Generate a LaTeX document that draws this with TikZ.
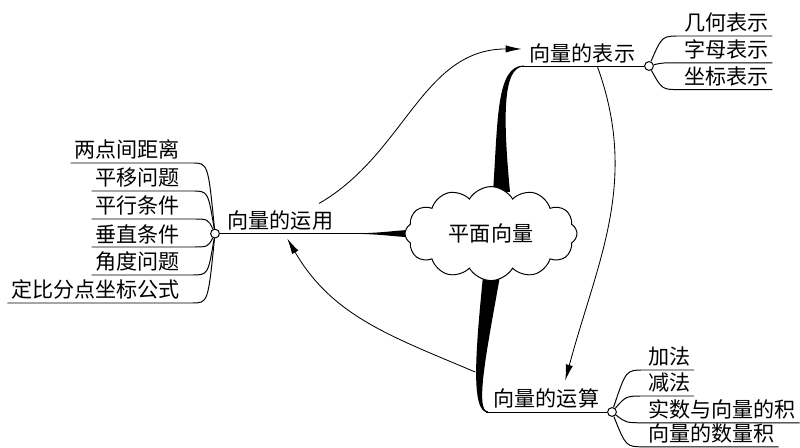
\documentclass[tikz,border=0pt]{standalone}
\usepackage{fontspec}
\newfontfamily\cjk{Noto Sans CJK SC}
\usepackage{tikz}
\usetikzlibrary{arrows.meta,positioning,calc,shapes.symbols}

\begin{document}
\begin{tikzpicture}[x=1cm,y=1cm,line width=0.7pt,
  word/.style={font=\cjk\fontsize{15}{18}\selectfont,inner xsep=2.5pt,inner ysep=2pt},
  knot/.style={circle,draw,fill=white,inner sep=0pt,minimum size=2.2mm},
  link/.style={-{Latex[length=4mm,width=1.8mm]},line width=0.6pt}]
  \useasboundingbox (0,0) rectangle (20,11.2);

  % tapered stems (drawn first, the cloud covers their bases)
  \fill (8.4,5.355) .. controls (9.6,5.36) and (9.9,5.45) .. (10.3,5.45)
    -- (10.3,5.27) .. controls (9.9,5.27) and (9.6,5.36) .. (8.4,5.365) -- cycle;
  \fill (12.325,6.4) .. controls (12.45,8.2) and (12.4,9.5625) .. (13.1,9.5625)
    -- (13.1,9.5375) .. controls (12.55,9.5375) and (12.58,8.2) .. (12.75,6.4) -- cycle;
  \fill (12.075,4.3) .. controls (11.9,2.5) and (11.75,0.8875) .. (12.2,0.8875)
    -- (12.2,0.9125) .. controls (11.85,0.9125) and (12.2,2.6) .. (12.5,4.3) -- cycle;

  % centre
  \node[cloud,draw,fill=white,cloud puffs=12,cloud puff arc=120,aspect=1.9,
    minimum width=4.3cm,minimum height=2.35cm,word] (plane) at (12.275,5.36) {平面向量};

  % main branches
  \node[word,anchor=south] (yunyong) at (7.01,5.36) {向量的运用};
  \node[word,anchor=south] (biaoshi) at (14.56,9.55) {向量的表示};
  \node[word,anchor=south] (yunsuan) at (13.66,0.9) {向量的运算};
  \node[knot] (dotL) at (5.375,5.36) {};
  \node[knot] (dotT) at (16.225,9.55) {};
  \node[knot] (dotB) at (15.3,0.9) {};
  \draw (dotL) -- (plane.west);
  \draw (13.05,9.55) -- (dotT);
  \draw (12.15,0.9) -- (dotB);

  % leaves
  \foreach \txt [count=\i] in {两点间距离,平移问题,平行条件,垂直条件,角度问题,定比分点坐标公式}{
    \pgfmathsetmacro\y{7.825-0.7*\i}
    \node[word,anchor=south east] (use\i) at (4.6,\y) {\txt};
    \draw (use\i.south west) -- (4.8,\y) .. controls (5.2,\y) .. (dotL);
  }
  \foreach \txt/\y [count=\i] in {几何表示/10.3,字母表示/9.63,坐标表示/8.96}{
    \node[word,anchor=south west] (rep\i) at (17.0,\y) {\txt};
    \draw (dotT) .. controls (16.55,\y) .. (rep\i.south west) -- (rep\i.south east);
  }
  \foreach \txt/\y [count=\i] in {加法/1.95,减法/1.3,实数与向量的积/0.63,向量的数量积/0.03}{
    \node[word,anchor=south west] (op\i) at (16.1,\y) {\txt};
    \draw (dotB) .. controls (15.65,\y) .. (op\i.south west) -- (op\i.south east);
  }

  % cross links
  \coordinate (stemB) at (11.88,1.9);
  \draw[link] ($(yunyong.north east)+(-0.45,0.1)$) to[out=30,in=180] ($(biaoshi.west)+(-0.1,0.1)$);
  \draw[link] ($(biaoshi.south)+(0.37,0)$) to[out=-70,in=75] ($(yunsuan.north)+(0.47,0.13)$);
  \draw[link] (stemB) to[out=157,in=-60] ($(yunyong.south)+(0.17,-0.12)$);
\end{tikzpicture}
\end{document}
